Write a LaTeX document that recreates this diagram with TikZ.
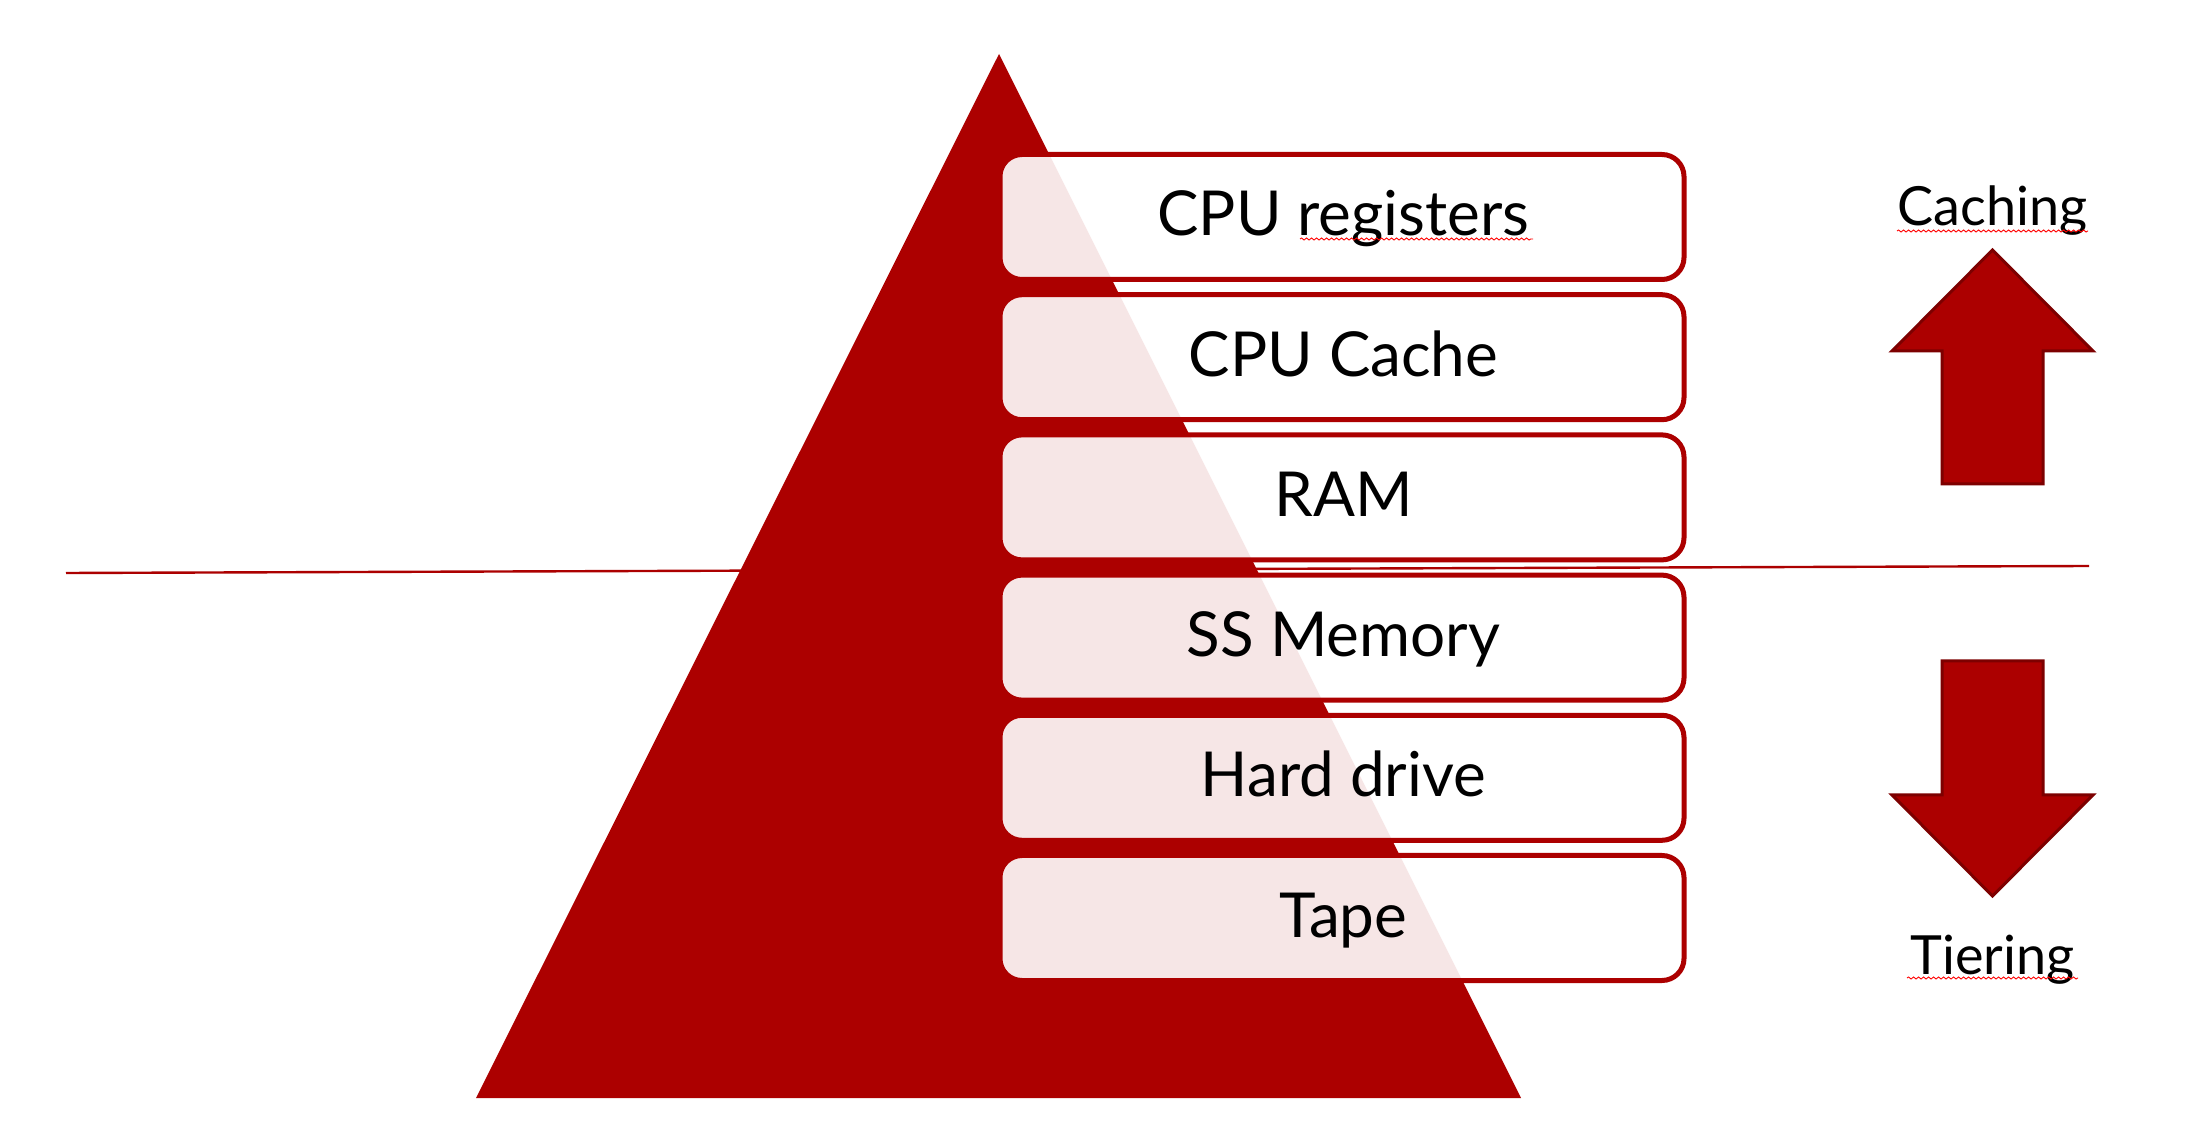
\documentclass[tikz,border=0pt]{standalone}
\usepackage{fontspec}
\setmainfont{Lato}
\usetikzlibrary{decorations.pathmorphing}
\definecolor{tri}{RGB}{172,0,0}
\definecolor{arrowedge}{RGB}{125,0,0}
\tikzset{
  stackbox/.style={draw=tri, line width=2.5pt, fill=white, fill opacity=0.9,
    rounded corners=11pt, minimum width=342pt, minimum height=62.5pt, inner sep=0pt},
  boxtext/.style={anchor=base, inner sep=0pt, font=\fontsize{31}{36}\selectfont},
  sidetext/.style={anchor=base, inner sep=0pt, font=\fontsize{27}{32}\selectfont},
  bigarrow/.style={fill=tri, draw=arrowedge, line width=1.5pt, line join=miter},
  spell/.style={draw=red, line width=0.45pt, decorate,
    decoration={snake, segment length=2.5pt, amplitude=0.5pt}},
  divider/.style={draw=tri, line width=1.2pt}
}
\begin{document}
\begin{tikzpicture}[x=0.5pt, y=-0.5pt]
\useasboundingbox (0,0) rectangle (2191,1143);
\fill[white] (0,0) rectangle (2191,1143);
% pyramid
\fill[tri] (999,54) -- (476,1098) -- (1521,1098) -- cycle;
% divider line
\coordinate (dl) at (66,573);
\coordinate (dr) at (2089,566);
\draw[divider] (dl) -- (dr);
% boxes
\foreach \i/\name in {0/b1,1/b2,2/b3,3/b4,4/b5,5/b6}{
  \node[stackbox] (\name) at (1342, {152+140.2*\i+65}) {};
}
\node[boxtext] (t1) at (1343.5, 236) {CPU registers};
\node[boxtext] (t2) at (1343.5, {236+140.2}) {CPU Cache};
\node[boxtext] (t3) at (1343.5, {236+2*140.2}) {RAM};
\node[boxtext] (t4) at (1343.5, {236+3*140.2}) {SS Memory};
\node[boxtext] (t5) at (1343.5, {236+4*140.2}) {Hard drive};
\node[boxtext] (t6) at (1343.5, {236+5*140.2}) {Tape};
% arrows
\draw[bigarrow] (1992.5,250) -- (2093,351) -- (2043,351) -- (2043,484) -- (1942,484) -- (1942,351) -- (1892,351) -- cycle;
\draw[bigarrow] (1942,661) -- (2043,661) -- (2043,795) -- (2093,795) -- (1992.5,896) -- (1892,795) -- (1942,795) -- cycle;
% side labels
\node[sidetext] (cach) at (1992.5,226) {Caching};
\node[sidetext] (tier) at (1992.5,974) {Tiering};
% spell-check marks
\draw[spell] (1300,239) -- (1533,239);
\draw[spell] (1897,231) -- (2088,231);
\draw[spell] (1907,978) -- (2078,978);
\end{tikzpicture}
\end{document}
